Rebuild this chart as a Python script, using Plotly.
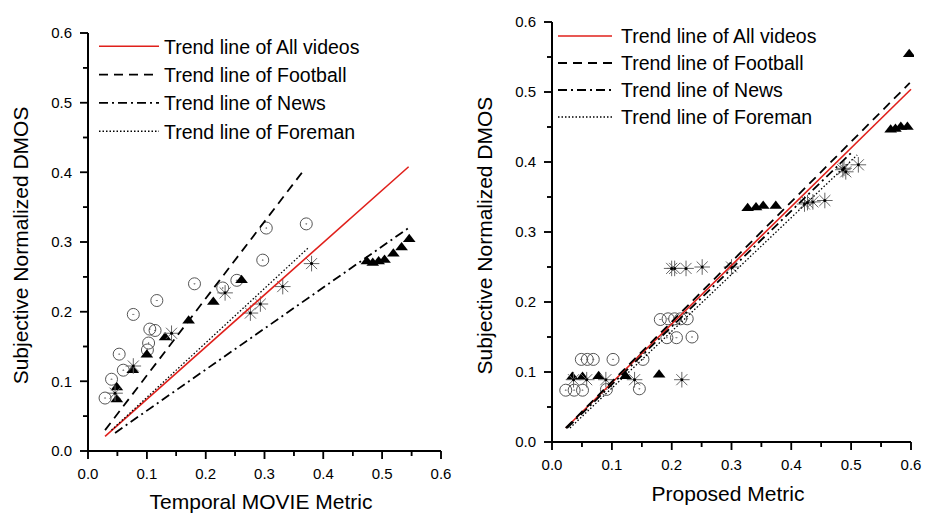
import plotly.graph_objects as go

# ---------------- Left panel: Temporal MOVIE metric ----------------
L_circle_x = [0.029, 0.040, 0.053, 0.060, 0.077, 0.101, 0.103, 0.105, 0.114, 0.117,
              0.181, 0.229, 0.253, 0.297, 0.303, 0.371]
L_circle_y = [0.076, 0.103, 0.139, 0.116, 0.196, 0.145, 0.155, 0.175, 0.173, 0.216,
              0.240, 0.234, 0.245, 0.274, 0.320, 0.326]

L_tri_x = [0.049, 0.049, 0.076, 0.100, 0.131, 0.171, 0.213, 0.261,
           0.474, 0.484, 0.494, 0.504, 0.519, 0.533, 0.546]
L_tri_y = [0.091, 0.074, 0.116, 0.138, 0.163, 0.187, 0.214, 0.245,
           0.272, 0.270, 0.272, 0.274, 0.283, 0.292, 0.304]

L_star_x = [0.046, 0.077, 0.142, 0.233, 0.276, 0.293, 0.331, 0.380]
L_star_y = [0.083, 0.122, 0.169, 0.227, 0.198, 0.211, 0.236, 0.269]

# trend line end points: [start, end]
L_all_x, L_all_y = [0.029, 0.545], [0.021, 0.408]
L_foot_x, L_foot_y = [0.029, 0.364], [0.030, 0.400]
L_news_x, L_news_y = [0.046, 0.548], [0.026, 0.322]
L_fore_x, L_fore_y = [0.040, 0.375], [0.030, 0.292]

# ---------------- Right panel: proposed metric ----------------
R_circle_x = [0.023, 0.037, 0.051, 0.091, 0.146,
              0.049, 0.059, 0.069, 0.102, 0.152,
              0.192, 0.208, 0.234,
              0.181, 0.194, 0.205, 0.215, 0.226]
R_circle_y = [0.074, 0.074, 0.074, 0.075, 0.076,
              0.118, 0.118, 0.118, 0.118, 0.118,
              0.149, 0.149, 0.150,
              0.175, 0.176, 0.176, 0.176, 0.176]

R_tri_x = [0.034, 0.051, 0.078, 0.123, 0.179,
           0.327, 0.341, 0.353, 0.374,
           0.566, 0.574, 0.583, 0.594, 0.597]
R_tri_y = [0.093, 0.093, 0.094, 0.094, 0.096,
           0.334, 0.335, 0.337, 0.337,
           0.446, 0.447, 0.450, 0.450, 0.554]

R_star_x = [0.036, 0.058, 0.090, 0.138, 0.217,
            0.200, 0.205, 0.224, 0.251, 0.300,
            0.422, 0.427, 0.436, 0.456,
            0.486, 0.488, 0.491, 0.512]
R_star_y = [0.089, 0.089, 0.089, 0.089, 0.089,
            0.248, 0.248, 0.248, 0.250, 0.250,
            0.340, 0.342, 0.343, 0.345,
            0.389, 0.391, 0.386, 0.396]

R_all_x, R_all_y = [0.023, 0.600], [0.020, 0.504]
R_foot_x, R_foot_y = [0.023, 0.598], [0.020, 0.513]
R_news_x, R_news_y = [0.025, 0.500], [0.020, 0.413]
R_fore_x, R_fore_y = [0.030, 0.510], [0.020, 0.410]

trend_names = ["Trend line of All videos", "Trend line of Football",
               "Trend line of News", "Trend line of Foreman"]
trend_styles = [dict(color="#e0201b", width=1.6, dash="solid"),
                dict(color="black", width=1.8, dash="9px,6px"),
                dict(color="black", width=1.8, dash="9px,4px,2px,4px"),
                dict(color="black", width=1.3, dash="1.5px,2px")]

# axis tick positions (same for both panels)
major_ticks = [0.0, 0.1, 0.2, 0.3, 0.4, 0.5, 0.6]
minor_ticks = [0.05, 0.15, 0.25, 0.35, 0.45, 0.55]
AX_MAX = 0.6

W, H = 925, 513
ML, MR, MT, MB = 50, 10, 10, 50
PW, PH = W - ML - MR, H - MT - MB
FONT = "Liberation Sans, Arial, sans-serif"
PAD_LO, PAD_HI = 10, 3        # room (px) for the outward ticks / edge strokes
MAJOR_LEN, MINOR_LEN = 8, 5   # tick lengths in px


def fx(px):
    return (px - ML) / PW


def fy(py):
    return (H - MB - py) / PH


class Panel:
    def __init__(self, px_left, px_right, py_zero, py_top):
        self.pl, self.pr, self.pz, self.pt = px_left, px_right, py_zero, py_top
        self.sx = AX_MAX / (px_right - px_left)
        self.sy = AX_MAX / (py_zero - py_top)
        self.xdom = [fx(px_left - PAD_LO), fx(px_right + PAD_HI)]
        self.ydom = [fy(py_zero + PAD_LO), fy(py_top - PAD_HI)]
        self.xr = [-PAD_LO * self.sx, AX_MAX + PAD_HI * self.sx]
        self.yr = [-PAD_LO * self.sy, AX_MAX + PAD_HI * self.sy]

    def xpix(self, v):
        return self.pl + v / AX_MAX * (self.pr - self.pl)

    def ypix(self, v):
        return self.pz - v / AX_MAX * (self.pz - self.pt)

    def xval(self, px):
        return (px - self.pl) * self.sx

    def yval(self, py):
        return (self.pz - py) * self.sy


left_p = Panel(88, 441, 451, 33)
right_p = Panel(552, 911, 442, 22)

fig = go.Figure()


def add_frame(p, xa, ya):
    """Left/bottom spines with outward major and minor ticks."""
    fig.add_trace(go.Scatter(x=[AX_MAX, 0, 0], y=[0, 0, AX_MAX], mode="lines",
                             xaxis=xa, yaxis=ya, showlegend=False, hoverinfo="skip",
                             line=dict(color="black", width=2)))
    tx, ty = [], []
    for vals, ln in ((major_ticks, MAJOR_LEN), (minor_ticks, MINOR_LEN)):
        for v in vals:
            tx += [v, v, None, 0, -ln * p.sx, None]
            ty += [0, -ln * p.sy, None, v, v, None]
    fig.add_trace(go.Scatter(x=tx, y=ty, mode="lines", xaxis=xa, yaxis=ya,
                             showlegend=False, hoverinfo="skip", connectgaps=False,
                             line=dict(color="black", width=1.5)))
    spine = dict(color="black", width=2)
    tick = dict(color="black", width=1.5)
    fig.add_shape(type="line", xref="paper", yref="paper",
                  x0=fx(p.pl), x1=fx(p.pr), y0=fy(p.pz), y1=fy(p.pz), line=spine)
    fig.add_shape(type="line", xref="paper", yref="paper",
                  x0=fx(p.pl), x1=fx(p.pl), y0=fy(p.pz), y1=fy(p.pt), line=spine)
    for vals, ln in ((major_ticks, MAJOR_LEN), (minor_ticks, MINOR_LEN)):
        for v in vals:
            xp, yp = p.xpix(v), p.ypix(v)
            fig.add_shape(type="line", xref="paper", yref="paper",
                          x0=fx(xp), x1=fx(xp), y0=fy(p.pz), y1=fy(p.pz + ln), line=tick)
            fig.add_shape(type="line", xref="paper", yref="paper",
                          x0=fx(p.pl - ln), x1=fx(p.pl), y0=fy(yp), y1=fy(yp), line=tick)


def add_points(xa, ya, circ, tri, star):
    fig.add_trace(go.Scatter(x=circ[0], y=circ[1], mode="markers", xaxis=xa, yaxis=ya,
                             showlegend=False, hoverinfo="skip",
                             marker=dict(symbol="circle-open-dot", size=12,
                                         color="#555555", line=dict(width=1))))
    fig.add_trace(go.Scatter(x=tri[0], y=tri[1], mode="markers", xaxis=xa, yaxis=ya,
                             showlegend=False, hoverinfo="skip",
                             marker=dict(symbol="triangle-up", size=11, color="black")))
    fig.add_trace(go.Scatter(x=star[0], y=star[1], mode="markers", xaxis=xa, yaxis=ya,
                             showlegend=False, hoverinfo="skip",
                             marker=dict(symbol="asterisk-open", size=13,
                                         color="#666666", line=dict(width=1, color="#666666"))))
    fig.add_trace(go.Scatter(x=star[0], y=star[1], mode="markers", xaxis=xa, yaxis=ya,
                             showlegend=False, hoverinfo="skip",
                             marker=dict(symbol="circle", size=3, color="black")))


add_frame(left_p, "x", "y")
add_frame(right_p, "x2", "y2")

add_points("x", "y", (L_circle_x, L_circle_y), (L_tri_x, L_tri_y), (L_star_x, L_star_y))
add_points("x2", "y2", (R_circle_x, R_circle_y), (R_tri_x, R_tri_y), (R_star_x, R_star_y))

left_lines = [(L_all_x, L_all_y), (L_foot_x, L_foot_y), (L_news_x, L_news_y), (L_fore_x, L_fore_y)]
right_lines = [(R_all_x, R_all_y), (R_foot_x, R_foot_y), (R_news_x, R_news_y), (R_fore_x, R_fore_y)]

# left panel: trend lines listed in the figure legend
for (lx, ly), name, st in zip(left_lines, trend_names, trend_styles):
    fig.add_trace(go.Scatter(x=lx, y=ly, mode="lines", name=name, line=st,
                             xaxis="x", yaxis="y", hoverinfo="skip"))

legend_font = dict(family=FONT, size=19.5, color="black")

# right panel: trend lines plus a key drawn in the top-left corner of the panel
KEY_ROWS_PX = [36, 63, 90, 117]
KEY_SAMPLE_PX = (558, 612)
KEY_TEXT_PX = 619
for (rx, ry), name, st, row in zip(right_lines, trend_names, trend_styles, KEY_ROWS_PX):
    fig.add_trace(go.Scatter(x=rx, y=ry, mode="lines", name=name, line=st,
                             xaxis="x2", yaxis="y2", showlegend=False, hoverinfo="skip"))
    ky = right_p.yval(row)
    fig.add_trace(go.Scatter(x=[right_p.xval(KEY_SAMPLE_PX[0]), right_p.xval(KEY_SAMPLE_PX[1])],
                             y=[ky, ky], mode="lines", line=st, xaxis="x2", yaxis="y2",
                             showlegend=False, hoverinfo="skip"))
    fig.add_annotation(x=right_p.xval(KEY_TEXT_PX), y=ky, xref="x2", yref="y2", text=name,
                       showarrow=False, xanchor="left", yanchor="middle", font=legend_font)

title_font = dict(family=FONT, size=21, color="black")


def make_axis(domain, rng, anchor, title, standoff, label_gap):
    return dict(range=rng, domain=domain, anchor=anchor,
                showgrid=False, zeroline=False, showline=False, ticks="",
                tickmode="array", tickvals=major_ticks,
                ticktext=["%.1f" % v for v in major_ticks],
                ticklabelstandoff=label_gap,
                tickfont=dict(family=FONT, size=15, color="black"),
                title=dict(text=title, standoff=standoff, font=title_font))


fig.update_layout(
    template="none",
    width=W, height=H, margin=dict(l=ML, r=MR, t=MT, b=MB),
    paper_bgcolor="white", plot_bgcolor="white",
    xaxis=make_axis(left_p.xdom, left_p.xr, "y", "Temporal MOVIE Metric", 13, 2),
    yaxis=make_axis(left_p.ydom, left_p.yr, "x", "Subjective Normalized DMOS", 16, 5),
    xaxis2=make_axis(right_p.xdom, right_p.xr, "y2", "Proposed Metric", 14, 2),
    yaxis2=make_axis(right_p.ydom, right_p.yr, "x2", "Subjective Normalized DMOS", 16, 5),
    showlegend=True,
    legend=dict(x=fx(94), y=fy(27), xanchor="left", yanchor="top",
                bgcolor="rgba(0,0,0,0)", font=legend_font, itemwidth=60,
                tracegroupgap=0, borderwidth=0),
)

fig.write_html("out.html")
